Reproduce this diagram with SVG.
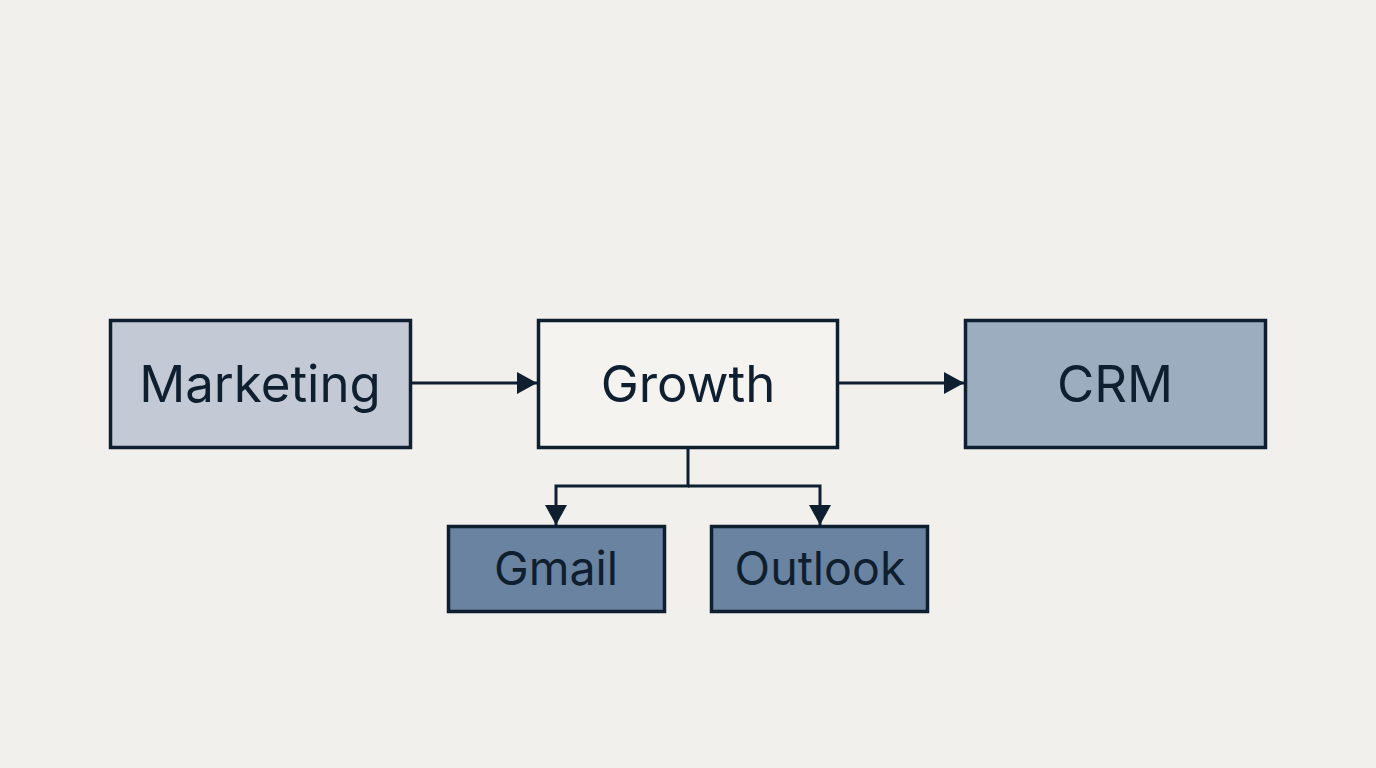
<svg xmlns="http://www.w3.org/2000/svg" width="1376" height="768" viewBox="0 0 1376 768">
<style>
.box{stroke:#0f1f30;stroke-width:3.5}
.lbl{font-family:Inter,"Noto Sans",sans-serif;fill:#0f1f30;text-anchor:middle}
.big{font-size:51px}
.small{font-size:46.5px}
.conn{fill:none;stroke:#0f1f30;stroke-width:3}
</style>
<defs>
<marker id="ah2" viewBox="0 0 20 22" refX="20" refY="11" markerWidth="20" markerHeight="22" orient="auto" markerUnits="userSpaceOnUse">
<path d="M0,0 L20,11 L0,22 z" fill="#0f1f30"/>
</marker>
</defs>
<rect width="1376" height="768" fill="#f1f0ec"/>
<g id="connectors">
<path class="conn" d="M411,383 H537" marker-end="url(#ah2)"/>
<path class="conn" d="M838,383 H964" marker-end="url(#ah2)"/>
<path class="conn" d="M688,447 V486 H556 V525" marker-end="url(#ah2)"/>
<path class="conn" d="M688,486 H820 V525" marker-end="url(#ah2)"/>
</g>
<g id="marketing">
<rect class="box" x="110.5" y="320.5" width="300" height="127" fill="#c3cad5"/>
<text class="lbl big" x="260" y="402">Marketing</text>
</g>
<g id="growth">
<rect class="box" x="538.5" y="320.5" width="299" height="127" fill="#f4f3f0"/>
<text class="lbl big" x="688" y="402">Growth</text>
</g>
<g id="crm">
<rect class="box" x="965.5" y="320.5" width="300" height="127" fill="#9dadc0"/>
<text class="lbl big" x="1115" y="402">CRM</text>
</g>
<g id="gmail">
<rect class="box" x="448.5" y="526.5" width="216" height="85" fill="#6a83a0"/>
<text class="lbl small" x="556" y="585">Gmail</text>
</g>
<g id="outlook">
<rect class="box" x="711.5" y="526.5" width="216" height="85" fill="#6a83a0"/>
<text class="lbl small" x="820" y="585">Outlook</text>
</g>
</svg>
